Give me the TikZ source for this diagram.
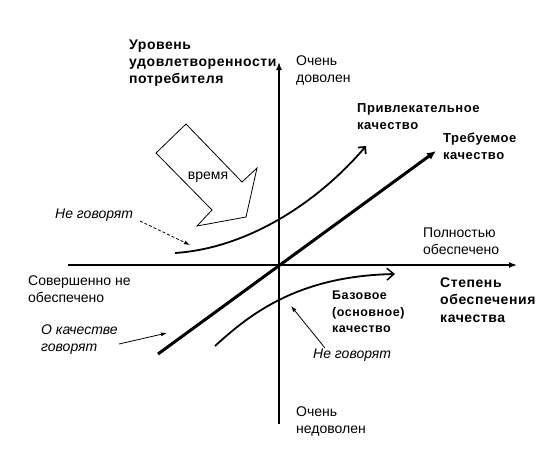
\documentclass[tikz,border=0pt]{standalone}
\usepackage{fontspec}
\setmainfont{Liberation Sans}
\newfontfamily\wideb[LetterSpace=4,BoldFont={Liberation Sans Bold}]{Liberation Sans}
\usetikzlibrary{arrows.meta}
\begin{document}
\begin{tikzpicture}[x=1pt,y=-1pt,
  lbl/.style={inner sep=0pt, anchor=west, align=left, font=\fontsize{14}{17}\selectfont},
  blbl/.style={lbl, font=\wideb\bfseries\fontsize{14}{17.5}\selectfont},
  mlbl/.style={lbl, font=\wideb\bfseries\fontsize{13}{17}\selectfont},
  slbl/.style={lbl, font=\wideb\bfseries\fontsize{12.5}{16.5}\selectfont},
  ilbl/.style={lbl, font=\itshape\fontsize{14}{17}\selectfont},
  axis/.style={line width=1.5pt, -{Latex[length=8pt,width=6pt]}},
  thick line/.style={line width=3pt, -{Latex[length=9pt,width=8pt]}},
  curve/.style={line width=1.8pt, -{Straight Barb[length=5pt,width=10pt,line width=1.8pt]}},
  pointer/.style={line width=0.8pt, -{Latex[length=6pt,width=4pt]}},
  bigarrow/.style={draw, line width=0.8pt, fill=white}
]
\useasboundingbox (0,0) rectangle (554,451);
\fill[white] (0,0) rectangle (554,451);

% axes
\coordinate (O) at (279,265);
\coordinate (ytop) at (279,62);
\coordinate (ybot) at (279,424);
\coordinate (xl) at (68,265);
\coordinate (xr) at (517,265);
\draw[axis] (ybot) -- (ytop);
\draw[axis] (xl) -- (xr);

% big hollow arrow "время"
\draw[bigarrow] (186,124) -- (242,182) -- (257,168) -- (246,217) -- (197,226) -- (212,210) -- (156,153) -- cycle;
\node[lbl, fill=white, inner sep=1pt, anchor=center] (time) at (208,177) {время};

% curves and lines
\coordinate (a0) at (175,253);
\coordinate (a1) at (366,146);
\draw[curve] (a0) .. controls (250,248) and (320,200) .. (a1);
\coordinate (b0) at (215,346);
\coordinate (b1) at (395,274);
\draw[line width=1.8pt, -{Straight Barb[length=7pt,width=12pt,line width=1.5pt]}] (b0) .. controls (252,312) and (300,276) .. (b1);
\coordinate (r0) at (158,354);
\coordinate (r1) at (436,151);
\draw[thick line] (r0) -- (r1);

% labels
\node[blbl, font=\wideb\bfseries\fontsize{14}{17}\selectfont] (title) at (129,63) {Уровень\\удовлетворенности\\потребителя};
\node[lbl] (vhigh) at (296,71) {Очень\\доволен};
\node[mlbl] (attr) at (357,117) {Привлекательное\\качество};
\node[mlbl] (req) at (443,146) {Требуемое\\качество};
\node[lbl] (full) at (423,241) {Полностью\\обеспечено};
\node[lbl] (none) at (28,289) {Совершенно не\\обеспечено};
\node[blbl] (xlab) at (440,300) {Степень\\обеспечения\\качества};
\node[slbl] (base) at (332,312) {Базовое\\(основное)\\качество};
\node[ilbl] (talk) at (41,340) {О качестве\\говорят};
\node[ilbl] (nt1) at (55,215) {Не говорят};
\node[ilbl] (nt2) at (313,355) {Не говорят};
\node[lbl] (vlow) at (296,421) {Очень\\недоволен};

% pointers
\coordinate (p1s) at (140,221);
\coordinate (p1e) at (190,245);
\draw[pointer, densely dashed] (p1s) -- (p1e);
\coordinate (p2s) at (119,344);
\coordinate (p2e) at (167,333);
\draw[pointer] (p2s) -- (p2e);
\coordinate (p3s) at (325,348);
\coordinate (p3e) at (291,306);
\draw[pointer] (p3s) -- (p3e);
\end{tikzpicture}
\end{document}
